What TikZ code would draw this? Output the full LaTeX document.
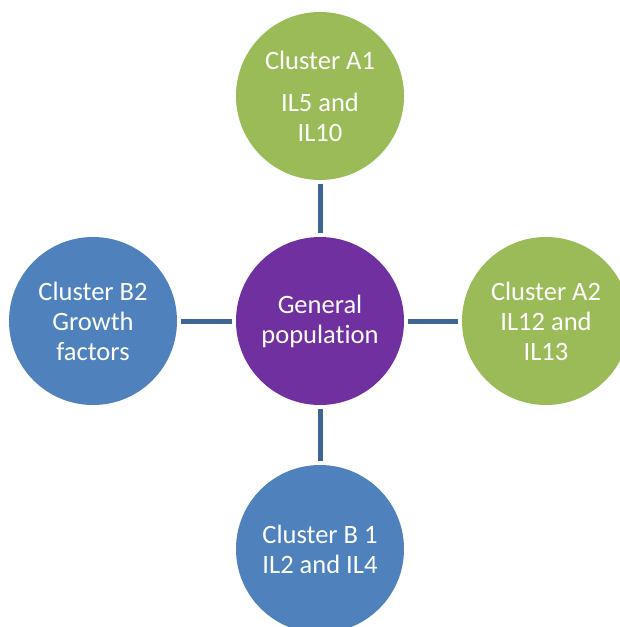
\documentclass[tikz,border=0pt]{standalone}
\usepackage{fontspec}
\setmainfont{Carlito}[Ligatures=NoCommon]
\definecolor{cgreen}{HTML}{9BBB59}
\definecolor{cblue}{HTML}{4F81BD}
\definecolor{cpurple}{HTML}{7030A0}
\definecolor{cline}{HTML}{3D6695}
\begin{document}
\begin{tikzpicture}[x=1pt,y=-1pt,
  bubble/.style={circle,minimum size=168pt,inner sep=0pt,text=white,align=center,
    font=\fontsize{26.5}{30}\selectfont},
  link/.style={draw=cline,line width=5pt,shorten <=3.5pt,shorten >=3.5pt}]
\clip (0,0) rectangle (620,627);
\fill[white] (0,0) rectangle (620,627);
\node[bubble,fill=cpurple] (gen) at (320,321) {General\\population};
\node[bubble,fill=cgreen] (a1) at (320,96) {Cluster A1\\[12pt]IL5 and\\IL10};
\node[bubble,fill=cgreen] (a2) at (546,321) {Cluster A2\\IL12 and\\IL13};
\node[bubble,fill=cblue] (b2) at (93,321) {Cluster B2\\Growth\\factors};
\node[bubble,fill=cblue] (b1) at (320,549) {Cluster B 1\\IL2 and IL4};
\draw[link] (a1) -- (gen);
\draw[link] (gen) -- (a2);
\draw[link] (b2) -- (gen);
\draw[link] (gen) -- (b1);
\end{tikzpicture}
\end{document}
